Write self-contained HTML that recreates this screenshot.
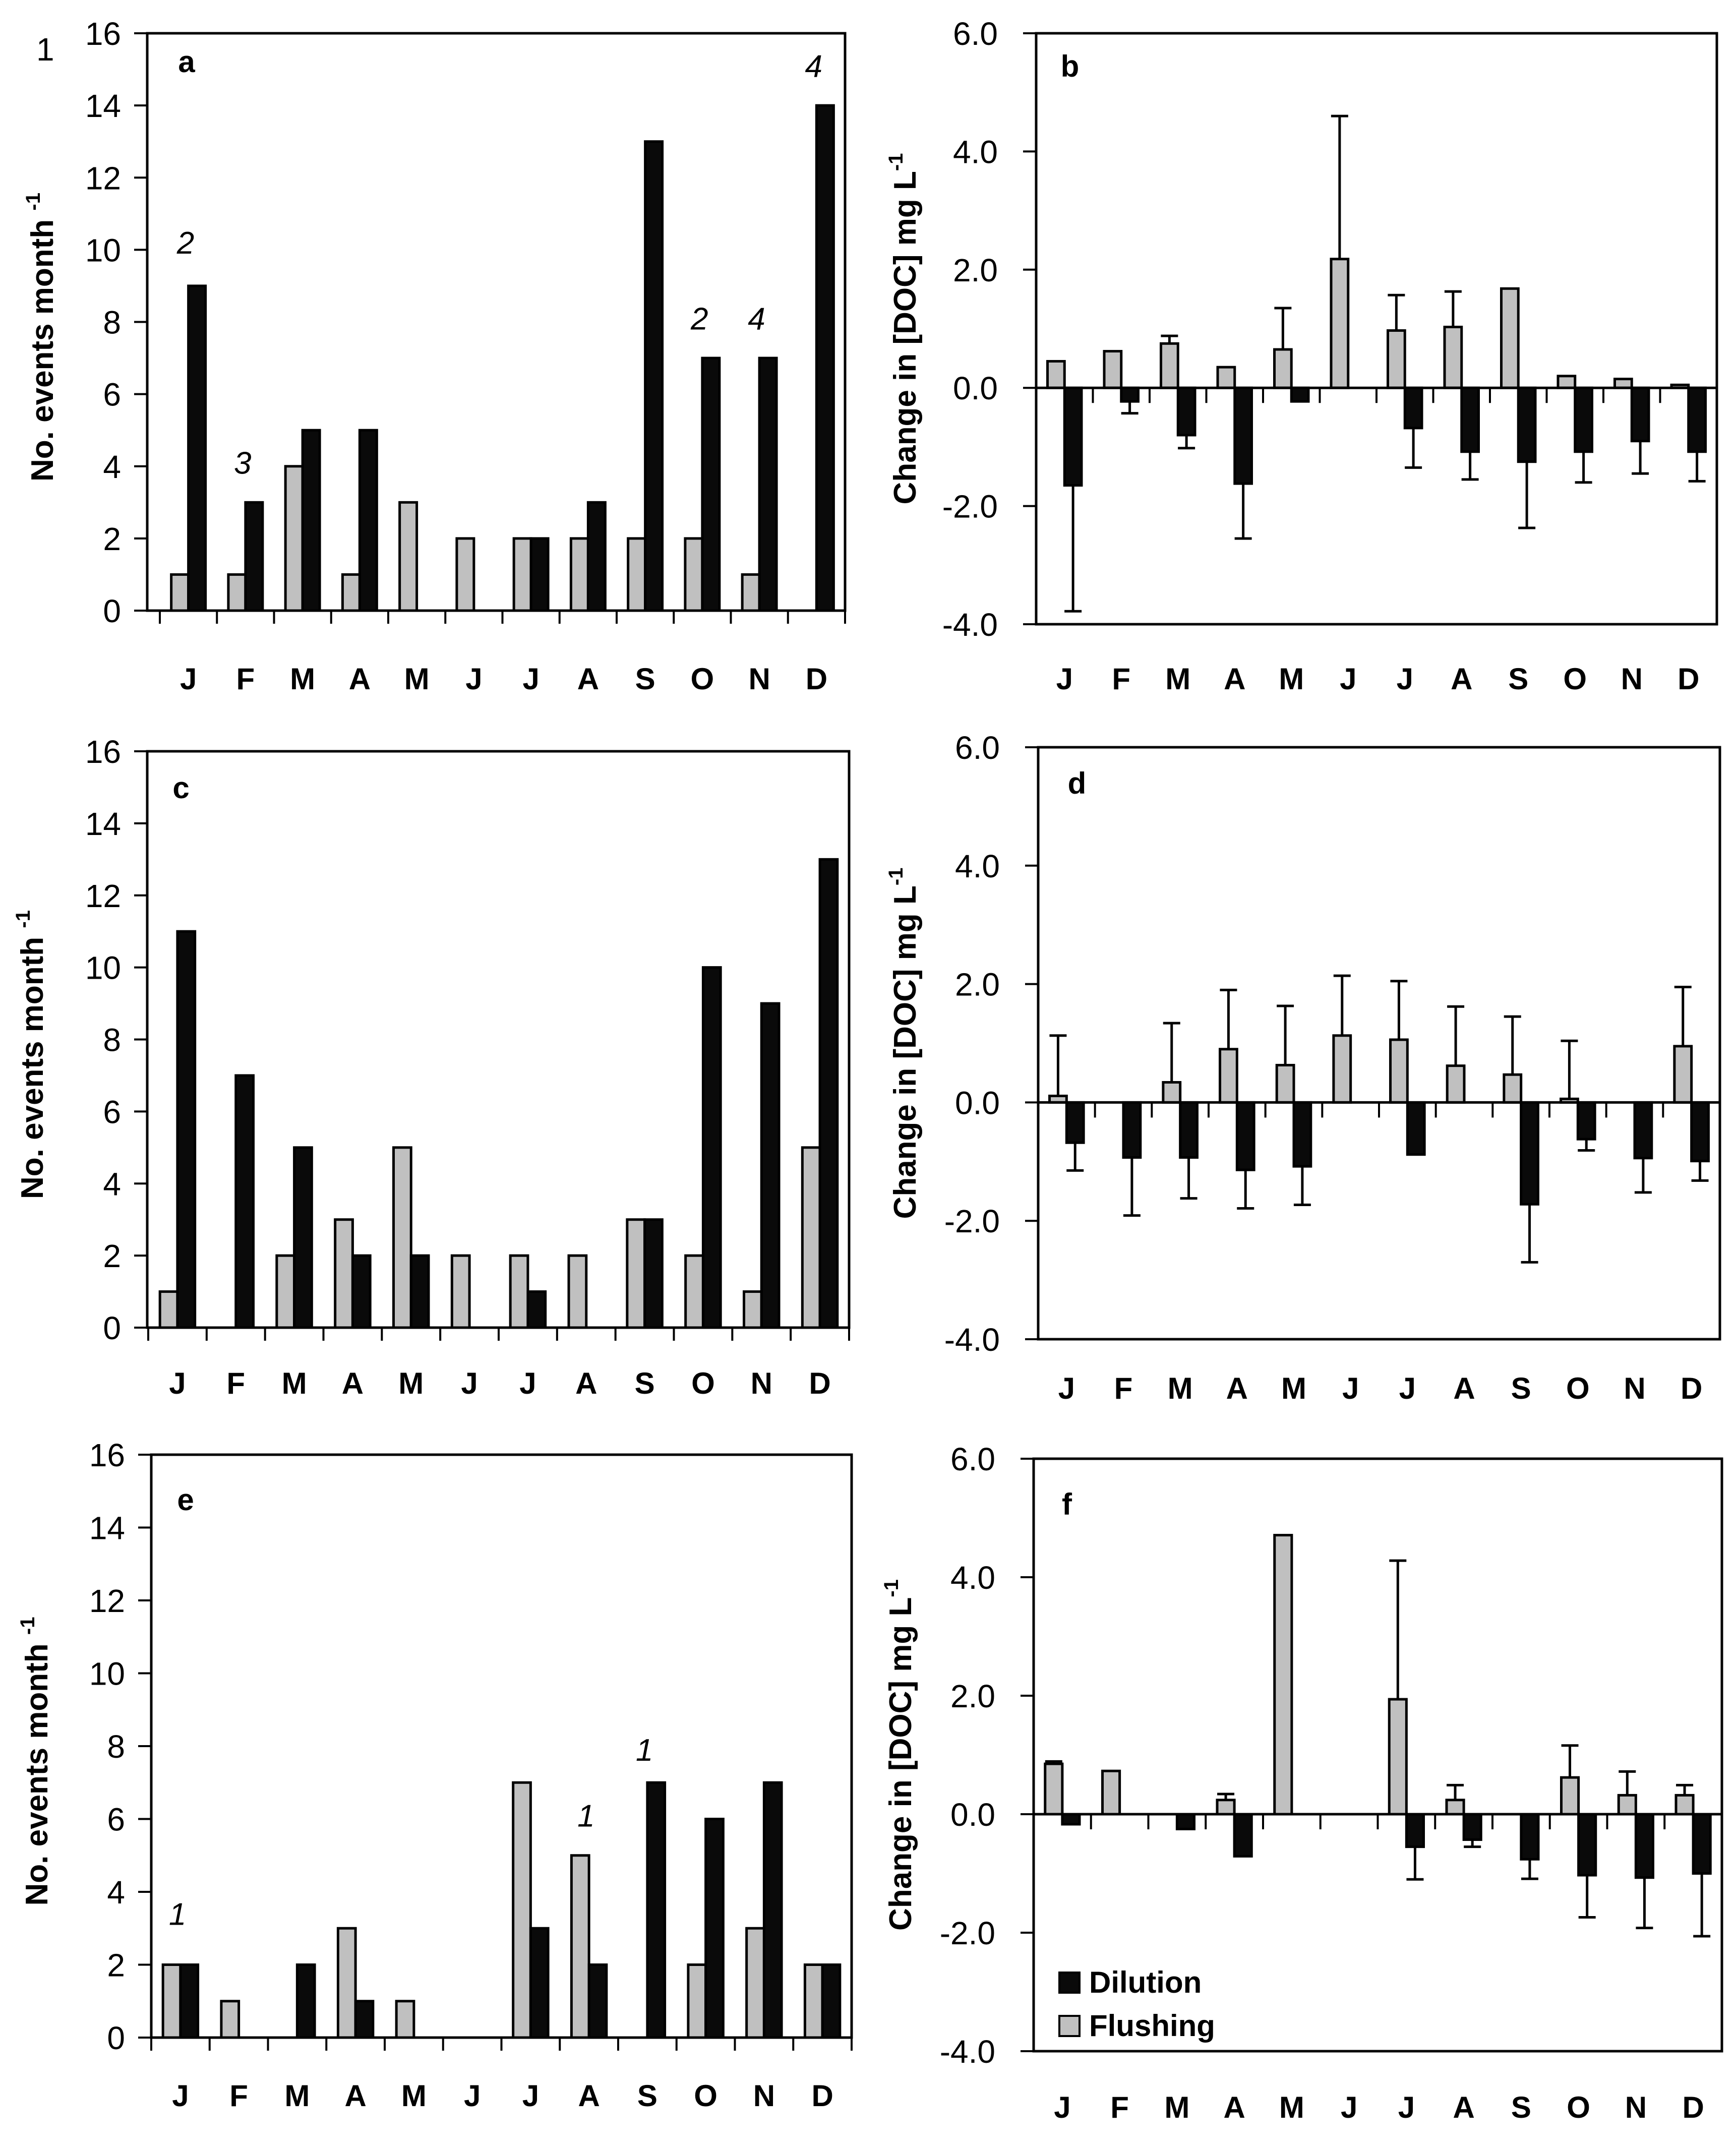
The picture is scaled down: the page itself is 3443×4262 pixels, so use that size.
<!DOCTYPE html>
<html><head><meta charset="utf-8"><style>
html,body{margin:0;padding:0;background:#fff;}
svg{display:block;font-family:"Liberation Sans",Arial,sans-serif;}
</style></head><body>
<svg id="fig" xmlns="http://www.w3.org/2000/svg" width="3443" height="4262" viewBox="0 0 3443 4262">
<rect x="0" y="0" width="3443" height="4262" fill="#fff"/>
<text x="72" y="120" font-size="64">1</text>
</svg>
<script>
const months = ["J","F","M","A","M","J","J","A","S","O","N","D"];
const aFlush = [1,1,4,1,3,2,2,2,2,2,1,0];
const aDil   = [9,3,5,5,0,0,2,3,13,7,7,14];
const aNotes = ["2","3","","","","","","","","2","4","4"];
const aNoteY = [10.2,4.1,0,0,0,0,0,0,0,8.1,8.1,15.1];
const cFlush = [1,0,2,3,5,2,2,2,3,2,1,5];
const cDil   = [11,7,5,2,2,0,1,0,3,10,9,13];
const eFlush = [2,1,0,3,1,0,7,5,0,2,3,2];
const eDil   = [2,0,2,1,0,0,3,2,7,6,7,2];
const eNotes = ["1","","","","","","","1","1","","",""];
const eNoteY = [3.4,0,0,0,0,0,0,6.1,7.9,0,0,0];
const bFlush = [0.45,0.62,0.75,0.35,0.65,2.18,0.97,1.03,1.68,0.2,0.15,0.05];
const bFlushErr = [0,0,0.13,0,0.7,2.42,0.6,0.6,0,0,0,0];
const bDil = [-1.65,-0.23,-0.8,-1.62,-0.23,0,-0.68,-1.08,-1.25,-1.08,-0.9,-1.08];
const bDilErr = [2.13,0.2,0.22,0.93,0,0,0.67,0.47,1.12,0.52,0.55,0.5];
const dFlush = [0.11,0,0.34,0.9,0.63,1.13,1.06,0.62,0.47,0.06,0,0.95];
const dFlushErr = [1.02,0,1.0,1.0,1.0,1.01,0.99,1.0,0.98,0.98,0,1.0];
const dDil = [-0.68,-0.93,-0.93,-1.14,-1.08,0,-0.88,0,-1.72,-0.62,-0.94,-0.99];
const dDilErr = [0.47,0.98,0.69,0.65,0.65,0,0,0,0.98,0.19,0.58,0.33];
const fFlush = [0.85,0.73,0,0.24,4.71,0,1.94,0.24,0,0.62,0.32,0.32];
const fFlushErr = [0.04,0,0,0.1,0,0,2.34,0.25,0,0.54,0.4,0.17];
const fDil = [-0.17,0,-0.25,-0.71,0,0,-0.55,-0.43,-0.76,-1.03,-1.07,-1.0];
const fDilErr = [0,0,0,0,0,0,0.55,0.12,0.33,0.71,0.85,1.06];
const countTicks = [0,2,4,6,8,10,12,14,16];
const docTicks = [-4,-2,0,2,4,6];
const docTickLabels = ["-4.0","-2.0","0.0","2.0","4.0","6.0"];

const NS="http://www.w3.org/2000/svg";
const svg=document.getElementById('fig');
function mk(tag,attrs,parent){const e=document.createElementNS(NS,tag);for(const k in attrs)e.setAttribute(k,attrs[k]);(parent||svg).appendChild(e);return e;}

function panel(p){
  const g=mk('g',{});
  
  
  const y=v=>p.bottom-(v-p.ymin)/(p.ymax-p.ymin)*(p.bottom-p.top);
  const cw=(p.x1-p.cx0)/12;
  const cx=i=>p.cx0+cw*i;
  const zero=y(0);
  function bars(vals,errs,fill,name){
    vals.forEach((v,i)=>{
      if(!v) return;
      const xs=cx(i)+cw*(fill==='#c0c0c0'?0.2:0.5);
      const w=cw*0.3;
      const yt=Math.min(y(v),zero), h=Math.abs(y(v)-zero);
      if(errs&&errs[i]>0){
        const ye=y(v+(v>0?errs[i]:-errs[i]));
        const l=mk('line',{x1:xs+w/2,x2:xs+w/2,y1:y(v),y2:ye,stroke:'#000','stroke-width':5},g);
        
        
        const c=mk('line',{x1:xs+w/2-17,x2:xs+w/2+17,y1:ye,y2:ye,stroke:'#000','stroke-width':5},g);
        
        
      }
      const r=mk('rect',{x:xs,y:yt,width:w,height:h,fill:fill,stroke:'#000','stroke-width':5},g);
      
      
    });
  }
  bars(p.flush,p.flushErr,'#c0c0c0','flushing');
  bars(p.dil,p.dilErr,'#0a0a0a','dilution');
  const box=mk('rect',{x:p.x0,y:p.top,width:p.x1-p.x0,height:p.bottom-p.top,fill:'none',stroke:'#000','stroke-width':5},g);
  
  
  if(p.ymin<0){
    const z=mk('line',{x1:p.x0,x2:p.x1,y1:zero,y2:zero,stroke:'#000','stroke-width':5},g);
    
    
    for(let i=1;i<12;i++){
      const t=mk('line',{x1:cx(i),x2:cx(i),y1:zero,y2:zero+30,stroke:'#000','stroke-width':4},g);
      
      
    }
  } else {
    for(let i=0;i<=12;i++){
      const t=mk('line',{x1:cx(i),x2:cx(i),y1:p.bottom,y2:p.bottom+26,stroke:'#000','stroke-width':4},g);
      
      
    }
  }
  p.ticks.forEach((v,k)=>{
    const t=mk('line',{x1:p.x0-26,x2:p.x0,y1:y(v),y2:y(v),stroke:'#000','stroke-width':4},g);
    
    
    const tx=mk('text',{x:p.x0-p.labOff,y:y(v)+23,'font-size':64,'text-anchor':'end'},g);
    tx.textContent=p.tickLabels[k];
    
    
  });
  months.forEach((m,i)=>{
    const t=mk('text',{x:cx(i)+cw/2,y:p.labY+22,'font-size':60,'font-weight':'bold','text-anchor':'middle'},g);
    t.textContent=m;
    
    
  });
  if(p.notes){
    p.notes.forEach((n,i)=>{
      if(!n) return;
      const t=mk('text',{x:cx(i)+cw*0.45,y:y(p.noteY[i])+22,'font-size':62,'font-style':'italic','text-anchor':'middle'},g);
      t.textContent=n;
      
      
    });
  }
  const L=mk('text',{x:p.letX,y:p.letY+20,'font-size':60,'font-weight':'bold','text-anchor':'middle'},g);
  L.textContent=p.id;
  
  
  const yc=(p.top+p.bottom)/2+p.titleDy;
  const T=mk('text',{x:p.titleX,y:yc,'font-size':62,'font-weight':'bold','text-anchor':'middle',transform:`rotate(-90 ${p.titleX} ${yc})`,dy:22},g);
  
  
  if(p.ymin<0){
    T.appendChild(document.createTextNode('Change in [DOC] mg L'));
    const s=mk('tspan',{'font-size':40,dy:-26},T);s.textContent='-1';
  } else {
    T.appendChild(document.createTextNode('No. events month '));
    const s=mk('tspan',{'font-size':40,dy:-26},T);s.textContent='-1';
  }
}
const cnt={ymin:0,ymax:16,ticks:countTicks,tickLabels:countTicks.map(String),labOff:52};
const doc={ymin:-4,ymax:6,ticks:docTicks,tickLabels:docTickLabels,labOff:76};
panel(Object.assign({id:'a',x0:292,x1:1676,cx0:317,top:66,bottom:1211,labY:1345,flush:aFlush,dil:aDil,notes:aNotes,noteY:aNoteY,letX:370,letY:123,titleX:83,titleDy:30},cnt));
panel(Object.assign({id:'c',x0:292,x1:1684,cx0:294,top:1490,bottom:2633,labY:2742,flush:cFlush,dil:cDil,letX:359,letY:1563,titleX:63,titleDy:30},cnt));
panel(Object.assign({id:'e',x0:300,x1:1689,cx0:300,top:2885,bottom:4041,labY:4155,flush:eFlush,dil:eDil,notes:eNotes,noteY:eNoteY,letX:368,letY:2975,titleX:72,titleDy:30},cnt));
panel(Object.assign({id:'b',x0:2055,x1:3405,cx0:2055,top:66,bottom:1238,labY:1345,flush:bFlush,flushErr:bFlushErr,dil:bDil,dilErr:bDilErr,letX:2122,letY:132,titleX:1794,titleDy:0},doc));
panel(Object.assign({id:'d',x0:2059,x1:3411,cx0:2059,top:1482,bottom:2656,labY:2752,flush:dFlush,flushErr:dFlushErr,dil:dDil,dilErr:dDilErr,letX:2136,letY:1554,titleX:1794,titleDy:0},doc));
panel(Object.assign({id:'f',x0:2050,x1:3415,cx0:2050,top:2893,bottom:4068,labY:4178,flush:fFlush,flushErr:fFlushErr,dil:fDil,dilErr:fDilErr,letX:2116,letY:2984,titleX:1785,titleDy:0},doc));
const lg=mk('g',{});


const r1=mk('rect',{x:2101,y:3912,width:40,height:40,fill:'#0a0a0a',stroke:'#000','stroke-width':4},lg);


const t1=mk('text',{x:2160,y:3952,'font-size':60,'font-weight':'bold'},lg);t1.textContent='Dilution';


const r2=mk('rect',{x:2101,y:3998,width:40,height:40,fill:'#c0c0c0',stroke:'#000','stroke-width':4},lg);


const t2=mk('text',{x:2160,y:4038,'font-size':60,'font-weight':'bold'},lg);t2.textContent='Flushing';


</script>
</body></html>
